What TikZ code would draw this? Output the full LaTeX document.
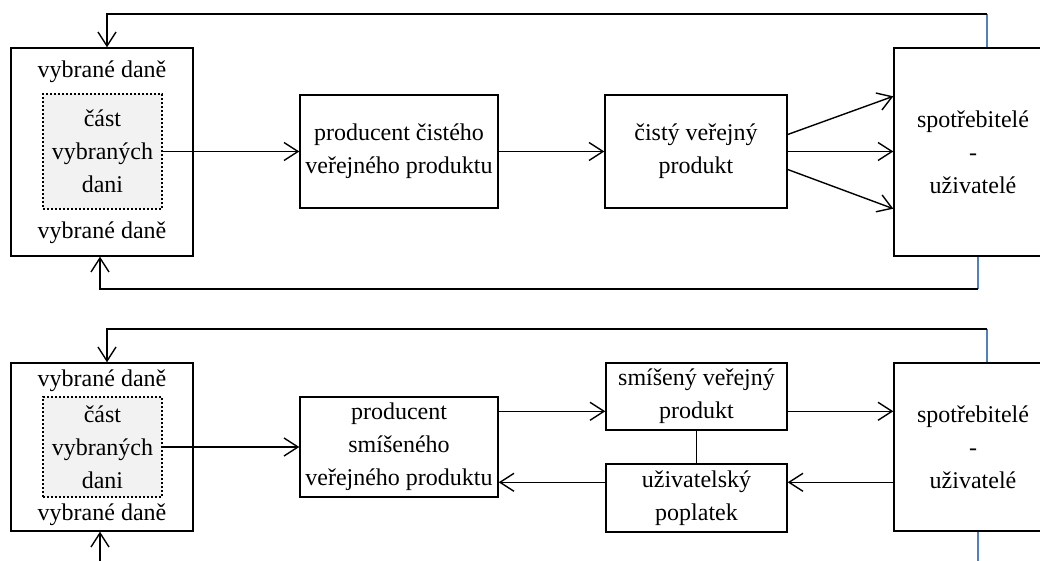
\documentclass[tikz,border=0pt]{standalone}
\usepackage{fontspec}
\setmainfont{Liberation Serif}
\newfontfamily\boxfont{Liberation Serif}
\usetikzlibrary{calc,arrows.meta}

\definecolor{linkblue}{HTML}{4F81BD}
\tikzset{
  box/.style={draw, line width=0.7pt, inner sep=0pt, align=center, font=\boxfont\fontsize{12}{16.5}\selectfont},
  dotbox/.style={box, dash pattern=on 1pt off 1pt, fill=gray!10},
  lbl/.style={inner sep=0pt, font=\boxfont\fontsize{12}{16.5}\selectfont},
  arr/.style={line width=0.7pt, -{Straight Barb[length=7pt,width=9pt]}},
  link/.style={line width=0.7pt},
  blueline/.style={line width=0.55pt, draw=linkblue},
}

\begin{document}
\begin{tikzpicture}[x=0.5pt,y=-0.5pt]
    \useasboundingbox (0,0) rectangle (1040,561);
    \clip (0,0) rectangle (1040,561);

    \node[box, minimum width=91pt, minimum height=104pt] (dane1) at (102,152) {};
    \node[dotbox, minimum width=59.5pt, minimum height=57.5pt] (cast1) at (102.5,151.5) {část\\vybraných\\dani};
    \node[lbl] at (102,72) {vybrané daně};
    \node[lbl] at (102,233) {vybrané daně};
    \node[box, minimum width=99pt, minimum height=56.5pt] (prod1) at (399,151.5) {producent čistého\\veřejného produktu};
    \node[box, minimum width=91pt, minimum height=56.5pt] (cisty) at (696,151.5) {čistý veřejný\\produkt};
    \node[box, minimum width=79pt, minimum height=104pt] (spot1) at (973,152) {spotřebitelé\\-\\uživatelé};

    \draw[arr] (cast1.east) -- (prod1.west);
    \draw[arr] (prod1.east) -- (cisty.west);
    \draw[arr] ($(cisty.east)+(0,-17)$) -- ($(spot1.north west)+(0,49)$);
    \draw[arr] (cisty.east) -- (cisty.east -| spot1.west);
    \draw[arr] ($(cisty.east)+(0,18)$) -- ($(spot1.south west)+(0,-48)$);

    \coordinate (t1) at (987,14);
    \coordinate (t2) at (107,14);
    \draw[blueline] (t1 |- spot1.north) -- (t1);
    \draw[arr] (t1) -- (t2) -- (t2 |- dane1.north);
    \coordinate (b1) at (978,289);
    \coordinate (b2) at (100,289);
    \draw[blueline] (b1 |- spot1.south) -- (b1);
    \draw[arr] (b1) -- (b2) -- (b2 |- dane1.south);

    \node[box, minimum width=91pt, minimum height=84pt] (dane2) at (102,447) {};
    \node[dotbox, minimum width=59.5pt, minimum height=50pt] (cast2) at (102.5,447) {část\\vybraných\\dani};
    \node[lbl] at (102,381) {vybrané daně};
    \node[lbl] at (102,515) {vybrané daně};
    \node[box, minimum width=99pt, minimum height=50pt] (prod2) at (399,447) {producent\\smíšeného\\veřejného produktu};
    \node[box, minimum width=90.5pt, minimum height=33.5pt] (smisen) at (696.5,396.5) {smíšený veřejný\\produkt};
    \node[box, minimum width=90.5pt, minimum height=34pt] (uziv) at (696.5,498) {uživatelský\\poplatek};
    \node[box, minimum width=79pt, minimum height=84pt] (spot2) at (973,447) {spotřebitelé\\-\\uživatelé};

    \draw[arr] (cast2.east) -- (prod2.west);
    \coordinate (p1) at ($(prod2.north east)+(0,15)$);
    \draw[arr] (p1) -- (p1 -| smisen.west);
    \draw[arr] (p1 -| smisen.east) -- (p1 -| spot2.west);
    \coordinate (p2) at ($(uziv.north east)+(0,19)$);
    \draw[arr] (p2 -| spot2.west) -- (p2);
    \draw[arr] (p2 -| uziv.west) -- (p2 -| prod2.east);
    \draw[link] (smisen.south) -- (uziv.north);

    \coordinate (t3) at (987,329);
    \coordinate (t4) at (107,329);
    \draw[blueline] (t3 |- spot2.north) -- (t3);
    \draw[arr] (t3) -- (t4) -- (t4 |- dane2.north);
    \coordinate (b3) at (978,575);
    \coordinate (b4) at (100,575);
    \draw[blueline] (b3 |- spot2.south) -- (b3);
    \draw[arr] (b4) -- (b4 |- dane2.south);
\end{tikzpicture}
\end{document}
